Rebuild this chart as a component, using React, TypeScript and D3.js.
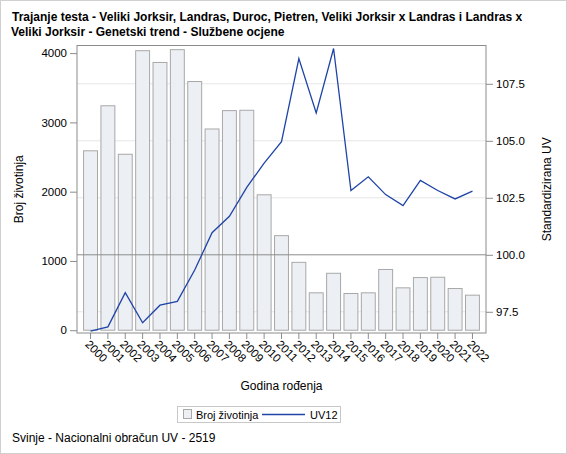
import { useEffect, useRef } from 'react';
import * as d3 from 'd3';

const years = [
  '2000', '2001', '2002', '2003', '2004', '2005', '2006', '2007', '2008', '2009', '2010', '2011',
  '2012', '2013', '2014', '2015', '2016', '2017', '2018', '2019', '2020', '2021', '2022',
];
const brojZivotinja = [
  2590, 3240, 2540, 4035, 3865, 4050, 3590, 2905, 3170, 3175, 1955, 1365,
  980, 540, 822, 530, 540, 877, 612, 760, 765, 602, 506,
];
const uv12 = [
  96.65, 96.84, 98.34, 97.02, 97.79, 97.96, 99.33, 100.97, 101.69, 102.96, 104.02, 104.96,
  108.61, 106.22, 109.05, 102.82, 103.42, 102.64, 102.16, 103.26, 102.82, 102.45, 102.79,
];
const leftTicks = [0, 1000, 2000, 3000, 4000];
const rightTicks = [97.5, 100, 102.5, 105, 107.5];

const W = 567;
const H = 454;
const FONT = 'Liberation Sans, Arial, sans-serif';

export default function App() {
  const svgRef = useRef<SVGSVGElement>(null);

  useEffect(() => {
    if (!svgRef.current) return;
    const svg = d3.select(svgRef.current);
    svg.selectAll('*').remove();

    const left = 77;
    const right = 486;
    const top = 45.5;
    const bottom = 333;

    const x = d3
      .scaleBand<string>()
      .domain(years)
      .range([left, right])
      .paddingInner(0.14)
      .paddingOuter(0.35);

    const yL = d3.scaleLinear().domain([-40, 4110]).range([bottom, top]);
    const yR = d3.scaleLinear().domain([96.57, 109.18]).range([bottom, top]);

    // outer border
    svg.append('rect')
      .attr('x', 0.5).attr('y', 0.5)
      .attr('width', W - 1).attr('height', H - 1)
      .attr('fill', '#fff').attr('stroke', '#d0d0d0');

    // title
    const title = svg.append('text')
      .attr('font-family', FONT).attr('font-size', 12).attr('font-weight', 'bold')
      .attr('fill', '#000');
    title.append('tspan').attr('x', 12).attr('y', 21)
      .text('Trajanje testa - Veliki Jorksir, Landras, Duroc, Pietren, Veliki Jorksir x Landras i Landras x');
    title.append('tspan').attr('x', 11).attr('y', 36)
      .text('Veliki Jorksir - Genetski trend - Službene ocjene');

    // gridlines from the right axis
    svg.append('g')
      .selectAll('line')
      .data(rightTicks.filter((t) => t !== 100))
      .enter()
      .append('line')
      .attr('x1', left).attr('x2', right)
      .attr('y1', (d) => yR(d)).attr('y2', (d) => yR(d))
      .attr('stroke', '#e6e6e6').attr('stroke-width', 1);

    // bars
    svg.append('g')
      .selectAll('rect')
      .data(brojZivotinja)
      .enter()
      .append('rect')
      .attr('x', (_d, i) => (x(years[i]) as number) + 0.5)
      .attr('y', (d) => yL(d))
      .attr('width', x.bandwidth() - 1)
      .attr('height', (d) => yL(0) - yL(d))
      .attr('fill', '#eceff4')
      .attr('stroke', '#a8a8a8')
      .attr('stroke-width', 1);

    // reference line at 100
    svg.append('line')
      .attr('x1', left).attr('x2', right)
      .attr('y1', yR(100)).attr('y2', yR(100))
      .attr('stroke', '#8c8c8c').attr('stroke-width', 1);

    // UV12 line
    const line = d3
      .line<number>()
      .x((_d, i) => (x(years[i]) as number) + x.bandwidth() / 2)
      .y((d) => yR(d));
    svg.append('path')
      .datum(uv12)
      .attr('fill', 'none')
      .attr('stroke', '#1f44a8')
      .attr('stroke-width', 1.3)
      .attr('d', line);

    // frame
    svg.append('rect')
      .attr('x', left).attr('y', top)
      .attr('width', right - left).attr('height', bottom - top)
      .attr('fill', 'none').attr('stroke', '#8c8c8c');

    // left axis
    const gl = svg.append('g').attr('transform', `translate(${left},0)`)
      .call(d3.axisLeft(yL).tickValues(leftTicks).tickSize(7).tickPadding(3).tickFormat(d3.format('d')));
    gl.select('.domain').remove();
    gl.selectAll('.tick line').attr('stroke', '#8c8c8c');
    gl.selectAll('.tick text').attr('font-family', FONT).attr('font-size', 11.5).attr('fill', '#000');

    // right axis
    const gr = svg.append('g').attr('transform', `translate(${right},0)`)
      .call(d3.axisRight(yR).tickValues(rightTicks).tickSize(7).tickPadding(3).tickFormat(d3.format('.1f')));
    gr.select('.domain').remove();
    gr.selectAll('.tick line').attr('stroke', '#8c8c8c');
    gr.selectAll('.tick text').attr('font-family', FONT).attr('font-size', 11.5).attr('fill', '#000');

    // bottom axis
    const gb = svg.append('g').attr('transform', `translate(0,${bottom})`)
      .call(d3.axisBottom(x).tickSize(6).tickPadding(3));
    gb.select('.domain').remove();
    gb.selectAll('.tick line').attr('stroke', '#8c8c8c');
    gb.selectAll('.tick text')
      .attr('font-family', FONT).attr('font-size', 11.5).attr('fill', '#000')
      .attr('text-anchor', 'start')
      .attr('dy', null)
      .attr('transform', 'translate(-6,12) rotate(45)')
      .attr('y', 0).attr('x', 0);

    // axis titles
    svg.append('text')
      .attr('transform', `translate(23,${(top + bottom) / 2}) rotate(-90)`)
      .attr('text-anchor', 'middle')
      .attr('font-family', FONT).attr('font-size', 12).attr('fill', '#000')
      .text('Broj životinja');
    svg.append('text')
      .attr('transform', `translate(551,${(top + bottom) / 2}) rotate(-90)`)
      .attr('text-anchor', 'middle')
      .attr('font-family', FONT).attr('font-size', 12).attr('fill', '#000')
      .text('Standardizirana UV');
    svg.append('text')
      .attr('x', (left + right) / 2).attr('y', 390)
      .attr('text-anchor', 'middle')
      .attr('font-family', FONT).attr('font-size', 12).attr('fill', '#000')
      .text('Godina rođenja');

    // legend
    const lg = svg.append('g');
    lg.append('rect')
      .attr('x', 177.5).attr('y', 406.5).attr('width', 163).attr('height', 16)
      .attr('fill', '#fff').attr('stroke', '#c8c8c8');
    lg.append('rect')
      .attr('x', 183.5).attr('y', 409.5).attr('width', 8).attr('height', 9)
      .attr('fill', '#eceff4').attr('stroke', '#a8a8a8');
    lg.append('text')
      .attr('x', 196).attr('y', 418.5)
      .attr('font-family', FONT).attr('font-size', 11).attr('fill', '#000')
      .text('Broj životinja');
    lg.append('line')
      .attr('x1', 262).attr('x2', 305).attr('y1', 414.5).attr('y2', 414.5)
      .attr('stroke', '#1f44a8').attr('stroke-width', 1.3);
    lg.append('text')
      .attr('x', 310).attr('y', 418.5)
      .attr('font-family', FONT).attr('font-size', 11).attr('fill', '#000')
      .text('UV12');

    // footnote
    svg.append('text')
      .attr('x', 12).attr('y', 442)
      .attr('font-family', FONT).attr('font-size', 12).attr('fill', '#000')
      .text('Svinje - Nacionalni obračun UV - 2519');
  }, []);

  return (
    <div style={{ position: 'absolute', left: 0, top: 0 }}>
      <svg ref={svgRef} width={W} height={H} style={{ display: 'block' }} />
    </div>
  );
}
